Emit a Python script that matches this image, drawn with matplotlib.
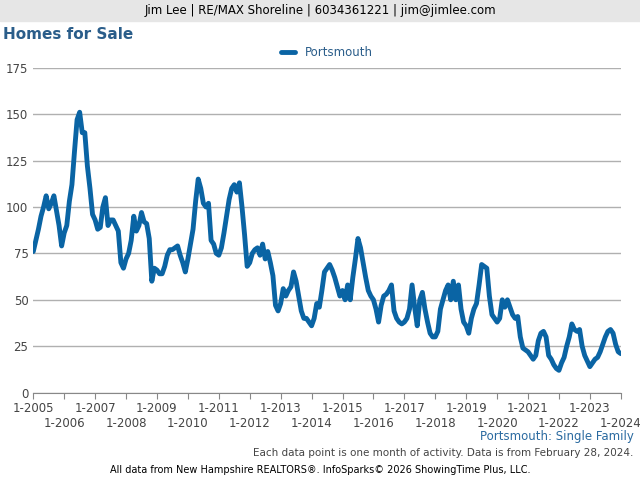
import numpy as np
import matplotlib.pyplot as plt

years = list(range(2005, 2024))
homes = {
    2005: [76, 82, 88, 95, 100, 106, 99, 102, 106, 98, 90, 79],
    2006: [86, 90, 103, 112, 130, 147, 151, 140, 140, 122, 110, 96],
    2007: [93, 88, 89, 100, 105, 90, 93, 93, 90, 87, 70, 67],
    2008: [72, 75, 82, 95, 87, 90, 97, 92, 91, 83, 60, 67],
    2009: [66, 64, 64, 68, 74, 77, 77, 78, 79, 74, 70, 65],
    2010: [72, 80, 88, 103, 115, 110, 102, 100, 102, 82, 80, 75],
    2011: [74, 78, 86, 95, 104, 110, 112, 108, 113, 100, 85, 68],
    2012: [70, 75, 77, 78, 74, 80, 72, 76, 70, 63, 47, 44],
    2013: [48, 56, 52, 55, 57, 65, 60, 52, 44, 40, 40, 38],
    2014: [36, 40, 48, 46, 55, 65, 67, 69, 66, 62, 57, 52],
    2015: [55, 50, 58, 50, 62, 72, 83, 78, 70, 62, 55, 52],
    2016: [50, 45, 38, 47, 52, 53, 55, 58, 44, 40, 38, 37],
    2017: [38, 40, 45, 58, 46, 36, 50, 54, 45, 38, 32, 30],
    2018: [30, 33, 45, 50, 55, 58, 50, 60, 50, 58, 45, 38],
    2019: [36, 32, 40, 45, 48, 58, 69, 68, 67, 52, 42, 40],
    2020: [38, 40, 50, 46, 50, 46, 42, 40, 41, 30, 24, 23],
    2021: [22, 20, 18, 20, 28, 32, 33, 30, 20, 18, 15, 13],
    2022: [12, 16, 19, 25, 30, 37, 34, 33, 34, 25, 20, 17],
    2023: [14, 16, 18, 19, 22, 26, 30, 33, 34, 32, 26, 22],
}
homes_2024 = [21, 21]

values = []
for y in years:
    values += homes[y]
values += homes_2024
x = 2005 + np.arange(len(values)) / 12.0

blue = '#0a64a4'
fig = plt.figure(figsize=(6.4, 4.8), dpi=100)
ax = fig.add_axes([0.052, 0.182, 0.918, 0.677])

ax.plot(x, values, color=blue, lw=3.5, solid_capstyle='round', label='Portsmouth')
ax.set_xlim(2005, 2024)
ax.set_ylim(0, 175)
ax.set_yticks(range(0, 176, 25))
ax.yaxis.grid(True, color='#b0b0b0', lw=1)
ax.set_axisbelow(True)
for s in ['top', 'right', 'left']:
    ax.spines[s].set_visible(False)
ax.spines['bottom'].set_color('#888888')
ax.tick_params(axis='y', length=0, labelsize=8.5, colors='#444444')
ax.set_xticks(range(2005, 2025))
ax.set_xticklabels([''] * 20)
ax.tick_params(axis='x', length=4, color='#888888')
for yr in range(2005, 2025):
    off = -0.03 if yr % 2 == 1 else -0.075
    ax.text(yr, off, '1-%d' % yr, transform=ax.get_xaxis_transform(),
            ha='center', va='top', fontsize=8.5, color='#444444')

ax.legend(loc='upper center', bbox_to_anchor=(0.5, 1.1), frameon=False,
          fontsize=8.5, handlelength=1.2, labelcolor='#2a5d8a')

fig.patches.append(plt.Rectangle((0, 0.957), 1, 0.043, transform=fig.transFigure,
                                 color='#e6e6e6', zorder=0))
fig.text(0.5, 0.978, 'Jim Lee | RE/MAX Shoreline | 6034361221 | jim@jimlee.com',
         ha='center', va='center', fontsize=8.5)
fig.text(0.005, 0.928, 'Homes for Sale', fontsize=11, fontweight='bold', color='#2a5d8a',
         va='center')
fig.text(0.99, 0.09, 'Portsmouth: Single Family', ha='right', va='center',
         fontsize=8.5, color='#2a6aa0')
fig.text(0.99, 0.056, 'Each data point is one month of activity. Data is from February 28, 2024.',
         ha='right', va='center', fontsize=7.5, color='#444444')
fig.text(0.5, 0.021, 'All data from New Hampshire REALTORS®. InfoSparks© 2026 ShowingTime Plus, LLC.',
         ha='center', va='center', fontsize=7)

plt.savefig('out.png')
